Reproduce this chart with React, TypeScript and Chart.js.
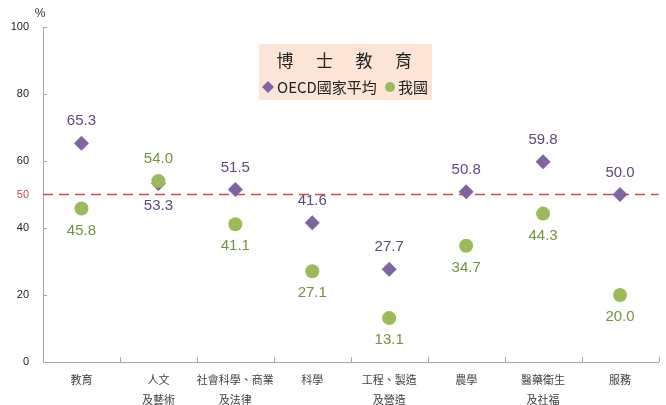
import React, { useEffect, useRef } from "react";
import { Chart, registerables } from "chart.js";

Chart.register(...registerables);

const categories: string[][] = [
  ["教育"],
  ["人文", "及藝術"],
  ["社會科學、商業", "及法律"],
  ["科學"],
  ["工程、製造", "及營造"],
  ["農學"],
  ["醫藥衛生", "及社福"],
  ["服務"],
];
const oecdValues = [65.3, 53.3, 51.5, 41.6, 27.7, 50.8, 59.8, 50.0];
const twValues = [45.8, 54.0, 41.1, 27.1, 13.1, 34.7, 44.3, 20.0];
const yTicks = [0, 20, 40, 50, 60, 80, 100];
const refLine = 50;
const legendTitleChars = ["博", "士", "教", "育"];
const oecdName = "OECD國家平均";
const twName = "我國";

const PURPLE = "#8064A2";
const GREEN = "#9BBB59";
const PURPLE_TXT = "#5F497A";
const GREEN_TXT = "#76923C";
const RED = "#C0504D";
const AXIS = "#A6A6A6";

const overlay = {
  id: "overlay",
  beforeDatasetsDraw(chart: any) {
    const { ctx, chartArea, scales } = chart;
    const y = scales.y.getPixelForValue(refLine);
    ctx.save();
    ctx.strokeStyle = RED;
    ctx.lineWidth = 1.5;
    ctx.setLineDash([10, 6]);
    ctx.beginPath();
    ctx.moveTo(chartArea.left, y);
    ctx.lineTo(chartArea.right, y);
    ctx.stroke();
    ctx.setLineDash([]);
    ctx.strokeStyle = AXIS;
    ctx.lineWidth = 1;
    for (const v of yTicks) {
      if (v === refLine) continue;
      const py = Math.round(scales.y.getPixelForValue(v)) + 0.5;
      ctx.beginPath();
      ctx.moveTo(chartArea.left, py);
      ctx.lineTo(chartArea.left + 4, py);
      ctx.stroke();
    }
    const xs = scales.x;
    const n = categories.length;
    const w = (chartArea.right - chartArea.left) / n;
    for (let i = 1; i <= n; i++) {
      const px = Math.round(xs.getPixelForValue(i - 1) + w / 2) + 0.5;
      ctx.beginPath();
      ctx.moveTo(px, chartArea.bottom);
      ctx.lineTo(px, chartArea.bottom - 5);
      ctx.stroke();
    }
    ctx.fillStyle = "#333";
    ctx.font = "12px 'Liberation Sans'";
    ctx.textAlign = "center";
    ctx.textBaseline = "middle";
    ctx.fillText("%", chartArea.left - 3, 14);
    ctx.restore();
  },
  afterDatasetsDraw(chart: any) {
    const { ctx, scales } = chart;
    ctx.save();
    ctx.font = "15px 'Liberation Sans'";
    ctx.textAlign = "center";
    ctx.textBaseline = "middle";
    for (let i = 0; i < categories.length; i++) {
      const x = scales.x.getPixelForValue(i);
      const o = oecdValues[i];
      const t = twValues[i];
      const oAbove = o >= t;
      ctx.fillStyle = PURPLE_TXT;
      ctx.fillText(o.toFixed(1), x, scales.y.getPixelForValue(o) + (oAbove ? -22 : 22));
      ctx.fillStyle = GREEN_TXT;
      ctx.fillText(t.toFixed(1), x, scales.y.getPixelForValue(t) + (oAbove ? 22 : -22));
    }
    const bx = 259, by = 44, bw = 173, bh = 56;
    ctx.fillStyle = "#FCE4D6";
    ctx.fillRect(bx, by, bw, bh);
    ctx.fillStyle = "#222";
    ctx.font = "17px 'Noto Sans CJK TC'";
    legendTitleChars.forEach((c, i) => ctx.fillText(c, 285 + i * 39.5, 61));
    const ry = 87;
    ctx.fillStyle = PURPLE;
    ctx.beginPath();
    ctx.moveTo(268, ry - 6);
    ctx.lineTo(274, ry);
    ctx.lineTo(268, ry + 6);
    ctx.lineTo(262, ry);
    ctx.closePath();
    ctx.fill();
    ctx.fillStyle = "#222";
    ctx.textAlign = "left";
    ctx.font = "15px 'Noto Sans CJK TC'";
    ctx.fillText(oecdName, 277, ry);
    ctx.fillStyle = GREEN;
    ctx.beginPath();
    ctx.arc(390, ry, 5, 0, Math.PI * 2);
    ctx.fill();
    ctx.fillStyle = "#222";
    ctx.fillText(twName, 398, ry);
    ctx.restore();
  },
};

export default function App() {
  const ref = useRef<HTMLCanvasElement>(null);
  useEffect(() => {
    if (!ref.current) return;
    const chart = new Chart(ref.current, {
      type: "line",
      data: {
        labels: categories,
        datasets: [
          {
            label: oecdName,
            data: oecdValues,
            showLine: false,
            pointStyle: "rectRot",
            pointRadius: 7.5,
            pointBackgroundColor: PURPLE,
            pointBorderColor: PURPLE,
            pointBorderWidth: 0,
            order: 1,
          },
          {
            label: twName,
            data: twValues,
            showLine: false,
            pointStyle: "circle",
            pointRadius: 7,
            pointBackgroundColor: GREEN,
            pointBorderColor: GREEN,
            pointBorderWidth: 0,
            order: 0,
          },
        ],
      },
      options: {
        responsive: false,
        animation: false,
        devicePixelRatio: 1,
        layout: { padding: { left: 8, right: 4, top: 27, bottom: 0 } },
        plugins: { legend: { display: false }, tooltip: { enabled: false } },
        scales: {
          x: {
            offset: true,
            grid: { display: false, drawTicks: false },
            border: { display: true, color: AXIS, width: 1 },
            ticks: {
              color: "#404040",
              font: { family: "'Noto Sans CJK TC'", size: 11, lineHeight: 1.8 },
              padding: 8,
              maxRotation: 0,
              autoSkip: false,
            },
            afterFit: (scale: any) => {
              scale.height = 43;
              scale.paddingLeft = 0;
              scale.paddingRight = 0;
            },
          },
          y: {
            min: 0,
            max: 100,
            grid: { display: false, drawTicks: false },
            border: { display: true, color: AXIS, width: 1 },
            afterBuildTicks: (scale: any) => {
              scale.ticks = yTicks.map((v) => ({ value: v }));
            },
            ticks: {
              padding: 14,
              color: (c: any) => (c.tick && c.tick.value === refLine ? RED : "#222"),
              font: { family: "'Liberation Sans'", size: 11 },
            },
            afterFit: (scale: any) => {
              scale.width = 35;
              scale.paddingTop = 0;
              scale.paddingBottom = 0;
            },
          },
        },
      },
      plugins: [overlay],
    });
    return () => chart.destroy();
  }, []);
  return (
    <div style={{ position: "absolute", left: 0, top: 0, width: 666, height: 405, background: "#fff" }}>
      <canvas ref={ref} width={666} height={405} />
    </div>
  );
}
